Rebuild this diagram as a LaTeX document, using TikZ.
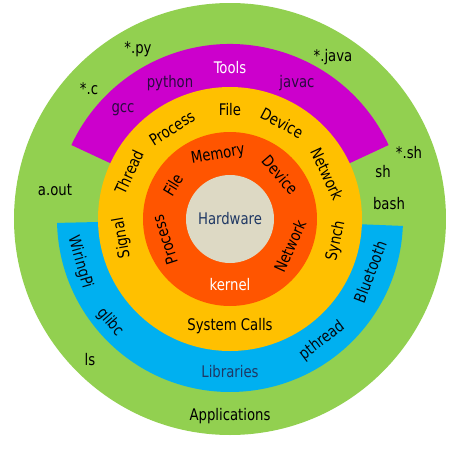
\documentclass[tikz,border=0pt]{standalone}
\usepackage{fontspec}
\setmainfont[FakeStretch=0.92]{DejaVu Sans Condensed}
\definecolor{appgreen}{HTML}{92D050}
\definecolor{toolpink}{HTML}{CC00CC}
\definecolor{libblue}{HTML}{00B0F0}
\definecolor{callyellow}{HTML}{FFC000}
\definecolor{kernorange}{HTML}{FF5500}
\definecolor{hwgrey}{HTML}{DDD9C4}
\definecolor{navytext}{HTML}{1F3864}
\definecolor{tooltext}{HTML}{2A0A40}

\begin{document}
\begin{tikzpicture}[
  x=1pt, y=1pt,
  font=\fontsize{16}{19}\selectfont,
  lbl/.style={inner sep=1pt, text=black},
  tool/.style={lbl, text=tooltext},
  lib/.style={lbl, text=black!85!navytext},
]
  \useasboundingbox[fill=white] (-230,-229) rectangle (234,219);

  % layers, outside in
  \fill[appgreen] (0,0) circle[radius=216];
  \fill[toolpink] (0,0) -- (25:175) arc[start angle=25, end angle=155, radius=175] -- cycle;
  \fill[libblue] (0,0) -- (181.3:173) arc[start angle=181.3, end angle=357.7, radius=173] -- cycle;
  \fill[callyellow] (0,0) circle[radius=132];
  \fill[kernorange] (0,0) circle[radius=87];
  \fill[hwgrey] (0,0) circle[radius=44];

  % applications
  \node[lbl] (py)   at (-92,170)  {*.py};
  \node[lbl] (java) at (103,162)  {*.java};
  \node[lbl] (csrc) at (-141,130) {*.c};
  \node[lbl] (shsrc) at (179,66)  {*.sh};
  \node[lbl] (sh)   at (153,47)   {sh};
  \node[lbl] (bash) at (159,15)   {bash};
  \node[lbl] (aout) at (-175,29)  {a.out};
  \node[lbl] (ls)   at (-140,-141) {ls};
  \node[lbl] (apps) at (0,-197)   {Applications};

  % tools
  \node[lbl, text=white] (tools) at (0,151) {Tools};
  \node[tool] (python) at (-60,136) {python};
  \node[tool] (javac)  at (67,136)  {javac};
  \node[tool] (gcc)    at (-107,109) {gcc};

  % system calls
  \node[lbl] (sfile)    at (0,109) {File};
  \node[lbl, rotate=32]  (sproc)   at (-58,91)  {Process};
  \node[lbl, rotate=-28] (sdev)    at (52,96)   {Device};
  \node[lbl, rotate=65]  (sthread) at (-101,47) {Thread};
  \node[lbl, rotate=-65] (snet)    at (97,45)   {Network};
  \node[lbl, rotate=100] (ssig)    at (-108,-19) {Signal};
  \node[lbl, rotate=78]  (ssynch)  at (106,-22) {Synch};
  \node[lbl] (calls) at (0,-107) {System Calls};

  % kernel
  \node[lbl, rotate=10]  (kmem)  at (-12,64)  {Memory};
  \node[lbl, rotate=59]  (kfile) at (-57,34)  {File};
  \node[lbl, rotate=-49] (kdev)  at (50,44)   {Device};
  \node[lbl, rotate=108] (kproc) at (-65,-21) {Process};
  \node[lbl, rotate=66]  (knet)  at (60,-27)  {Network};
  \node[lbl, text=white] (kernel) at (0,-66) {kernel};

  \node[lbl, text=navytext] (hw) at (0,0) {Hardware};

  % libraries
  \node[lib, rotate=-74] (wiring) at (-150,-43) {WiringPi};
  \node[lib, rotate=-49] (glibc)  at (-120,-103) {glibc};
  \node[lib, text=navytext] (libs) at (0,-153) {Libraries};
  \node[lib, rotate=37]  (pthr)   at (92,-122)  {pthread};
  \node[lib, rotate=69]  (bluet)  at (140,-53)  {Bluetooth};
\end{tikzpicture}
\end{document}
